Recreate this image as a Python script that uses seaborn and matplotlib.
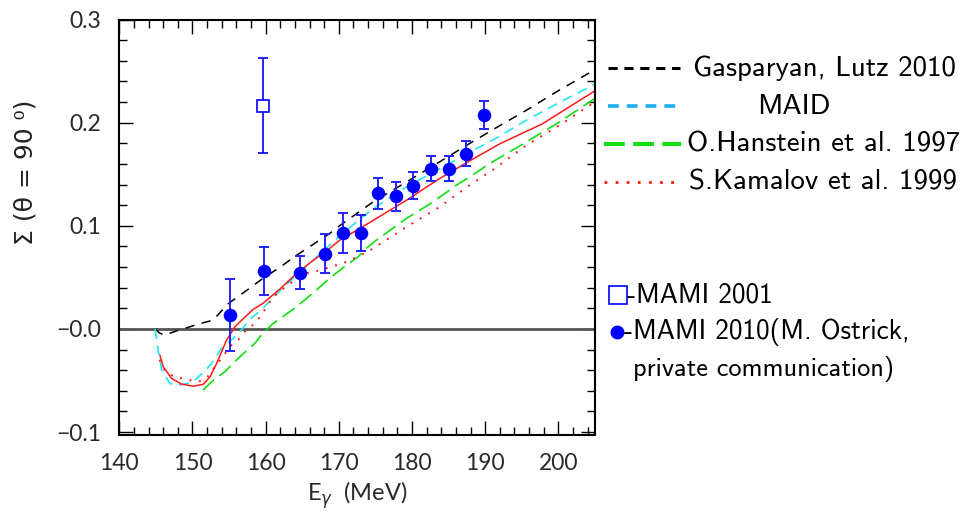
import numpy as np
import pandas as pd
import matplotlib
matplotlib.use("Agg")
import matplotlib.pyplot as plt
import seaborn as sns
from matplotlib.lines import Line2D
from matplotlib.ticker import MultipleLocator

# ---------------- data ----------------
gas_x = [144.9, 145.5, 146.2, 148.0, 151.5, 152.8, 154.9, 157.1, 159.6, 162.0, 164.2,
         166.5, 168.7, 170.1, 174.65, 179.2, 183.7, 187.8, 191.0, 195.55, 200.0, 204.9]
gas_y = [0.0, -0.004, -0.006, -0.0015, 0.006, 0.0084, 0.0246, 0.0358, 0.0488, 0.060, 0.0713,
         0.082, 0.0923, 0.100, 0.123, 0.1423, 0.1617, 0.1795, 0.193, 0.2117, 0.231, 0.251]

maid_x = [144.9, 145.3, 145.8, 146.9, 148.0, 149.2, 150.3, 151.5, 152.6, 153.95, 155.8,
          156.8, 157.8, 159.6, 161.2, 164.2, 166.5, 168.7, 171.0, 174.65, 179.2, 183.7,
          187.8, 191.5, 195.55, 200.0, 204.9]
maid_y = [0.0, -0.0206, -0.040, -0.0529, -0.0545, -0.053, -0.0497, -0.042, -0.0335, -0.019,
          -0.0077, 0.0, 0.009, 0.0197, 0.032, 0.052, 0.0665, 0.081, 0.0955, 0.1165, 0.1375,
          0.155, 0.171, 0.185, 0.202, 0.219, 0.237]

red_x = [145.55, 146.0, 147.15, 148.5, 150.1, 151.45, 152.4, 153.3, 154.65, 155.8, 157.1,
         158.3, 159.6, 162.0, 164.2, 166.5, 168.7, 170.1, 174.65, 179.2, 183.7, 187.8,
         192.0, 197.8, 204.9]
red_y = [-0.0255, -0.0368, -0.048, -0.0535, -0.0555, -0.0538, -0.0465, -0.0335, -0.011,
         0.002, 0.011, 0.019, 0.0246, 0.039, 0.0536, 0.0665, 0.0778, 0.0859, 0.105, 0.1246,
         0.1455, 0.1626, 0.1795, 0.1988, 0.2304]

han_x = [151.45, 152.6, 154.4, 156.7, 158.5, 159.4, 161.0, 162.5, 164.2, 166.9, 168.7,
         171.0, 172.6, 173.7, 175.1, 179.2, 182.85, 186.0, 187.8, 190.55, 195.55, 200.1, 204.9]
han_y = [-0.0593, -0.0513, -0.0416, -0.0255, -0.0142, -0.006, 0.0052, 0.0127, 0.0213,
         0.0375, 0.0488, 0.0617, 0.0697, 0.0778, 0.0859, 0.1069, 0.123, 0.139, 0.147,
         0.160, 0.181, 0.2004, 0.223]

kam_x = [145.5, 146.2, 147.6, 148.7, 149.6, 150.8, 151.9, 153.05, 153.95, 155.3, 156.2,
         157.1, 158.5, 159.4, 161.0, 162.4, 164.2, 165.55, 167.4, 169.6, 171.0, 172.6,
         174.65, 179.2, 183.7, 187.8, 191.0, 195.55, 200.1, 204.9]
kam_y = [-0.030, -0.040, -0.047, -0.048, -0.0497, -0.0513, -0.048, -0.0368, -0.0287,
         -0.0158, -0.011, -0.003, 0.0052, 0.0133, 0.031, 0.039, 0.0488, 0.054, 0.0568,
         0.0617, 0.0649, 0.070, 0.0778, 0.0987, 0.118, 0.139, 0.154, 0.1778, 0.1972, 0.2197]

m10_x = [155.1, 159.8, 164.65, 168.15, 170.55, 172.96, 175.37, 177.78, 180.19, 182.6,
         185.0, 187.37, 189.78]
m10_y = [0.0133, 0.0561, 0.0546, 0.073, 0.093, 0.093, 0.1317, 0.1285, 0.139, 0.1553,
         0.1553, 0.1698, 0.2075]
m10_err = [0.035, 0.023, 0.016, 0.019, 0.019, 0.017, 0.015, 0.014, 0.013, 0.012,
           0.012, 0.012, 0.0135]

m01_x = [159.6]
m01_y = [0.2163]
m01_err = [0.046]

xticks = [140, 150, 160, 170, 180, 190, 200]
xticklabels = ["140", "150", "160", "170", "180", "190", "200"]
yticks = [-0.1, 0.0, 0.1, 0.2, 0.3]
yticklabels = ["\u22120.1", "\u22120.0", "0.1", "0.2", "0.3"]

legend_labels = ["Gasparyan, Lutz 2010", "MAID", "O.Hanstein et al. 1997",
                 "S.Kamalov et al. 1999"]
data_labels = ["-MAMI 2001", "-MAMI 2010(M. Ostrick,", "private communication)"]

# ---------------- style ----------------
sns.set_style("ticks")
plt.rcParams["font.family"] = ["Lato", "DejaVu Sans"]
plt.rcParams["mathtext.fontset"] = "dejavusans"

W, H = 965, 519
fig = plt.figure(figsize=(W / 100, H / 100), dpi=100)
ax = fig.add_axes([119.3 / W, 1 - 434.5 / H, (595 - 119.3) / W, (434.5 - 19.5) / H])

BLACK = "#000000"
CYAN = "#22e6f0"
GREEN = "#11e011"
RED = "#ff1a1a"
BLUE = "#0000ff"
TXT = "#2a2a2a"

ax.axhline(0.0, color="#555555", lw=2.0, zorder=1)

sns.lineplot(x=gas_x, y=gas_y, ax=ax, color=BLACK, lw=1.1, sort=False,
             estimator=None, linestyle=(0, (6, 5)))
sns.lineplot(x=maid_x, y=maid_y, ax=ax, color=CYAN, lw=1.2, sort=False,
             estimator=None, linestyle=(0, (6, 4)))
sns.lineplot(x=han_x, y=han_y, ax=ax, color=GREEN, lw=1.2, sort=False,
             estimator=None, linestyle=(0, (9, 4)))
sns.lineplot(x=kam_x, y=kam_y, ax=ax, color=RED, lw=1.4, sort=False,
             estimator=None, linestyle=(0, (1, 4)))
sns.lineplot(x=red_x, y=red_y, ax=ax, color=RED, lw=1.1, sort=False,
             estimator=None)

ax.errorbar(m10_x, m10_y, yerr=m10_err, fmt="none", ecolor="#2222ff", elinewidth=1.4,
            capsize=3.5, capthick=1.4, zorder=4)
sns.scatterplot(x=m10_x, y=m10_y, ax=ax, color=BLUE, s=95, marker="o",
                edgecolor=BLUE, linewidth=0, zorder=5)
ax.errorbar(m01_x, m01_y, yerr=m01_err, fmt="s", mfc="white", mec=BLUE, mew=1.2,
            ms=8, ecolor=BLUE, elinewidth=1.2, capsize=3.5, capthick=1.2, zorder=5)

ax.set_xlim(140, 205)
ax.set_ylim(-0.1024, 0.3)
ax.set_xticks(xticks)
ax.set_xticklabels(xticklabels)
ax.set_yticks(yticks)
ax.set_yticklabels(yticklabels)
ax.xaxis.set_minor_locator(MultipleLocator(2))
ax.yaxis.set_minor_locator(MultipleLocator(0.02))
ax.tick_params(which="both", direction="in", top=True, right=True, color="black",
               width=1.0)
ax.tick_params(which="major", length=10, labelsize=16.5, pad=13, labelcolor=TXT)
ax.tick_params(which="minor", length=6)
for s in ax.spines.values():
    s.set_linewidth(1.5)
    s.set_color("black")
ax.set_xlabel("")
ax.set_ylabel("")

# axis titles
fig.text(357 / W, 1 - 495 / H, "E$_{\\gamma}$  (MeV)", ha="center", va="center",
         fontsize=17, color=TXT)
fig.text(26 / W, 1 - 172 / H, "\u03a3 (\u03b8 = 90 \u2070)", ha="center", va="center",
         rotation=90, fontsize=18, color="#222222", family=["DejaVu Sans"])

# legend (manual, outside the axes)
LF = dict(fontsize=20.8, family="cmss10", va="center", color="black")
LF2 = dict(LF, fontsize=19.6)
LF3 = dict(LF, fontsize=19)
fig.add_artist(Line2D([608 / W, 680 / W], [1 - 68 / H] * 2, color=BLACK, lw=2.2,
                      linestyle=(0, (3, 2.2))))
fig.text(693 / W, 1 - 68 / H, legend_labels[0], ha="left", **LF)
fig.add_artist(Line2D([608 / W, 680 / W], [1 - 106 / H] * 2, color="#1eaef0", lw=2.6,
                      linestyle=(0, (3, 2.2))))
fig.text(794 / W, 1 - 106 / H, legend_labels[1], ha="center", **LF)
fig.add_artist(Line2D([604 / W, 681 / W], [1 - 144 / H] * 2, color=GREEN, lw=3.0,
                      linestyle=(0, (5, 2))))
fig.text(687 / W, 1 - 144 / H, legend_labels[2], ha="left", **LF)
fig.add_artist(Line2D([604 / W, 681 / W], [1 - 182 / H] * 2, color=RED, lw=2.0,
                      linestyle=(0, (1, 3))))
fig.text(689 / W, 1 - 182 / H, legend_labels[3], ha="left", **LF)

fig.add_artist(Line2D([617.5 / W], [1 - 295 / H], marker="s", ms=13, mfc="white",
                      mec=BLUE, mew=1.2, linestyle="none"))
fig.text(627 / W, 1 - 295 / H, data_labels[0], ha="left", **LF2)
fig.add_artist(Line2D([617 / W], [1 - 332 / H], marker="o", ms=9, mfc=BLUE,
                      mec=BLUE, linestyle="none"))
fig.text(624 / W, 1 - 332 / H, data_labels[1], ha="left", **LF2)
fig.text(633 / W, 1 - 369 / H, data_labels[2], ha="left", **LF3)

fig.savefig("out.png", dpi=100)
